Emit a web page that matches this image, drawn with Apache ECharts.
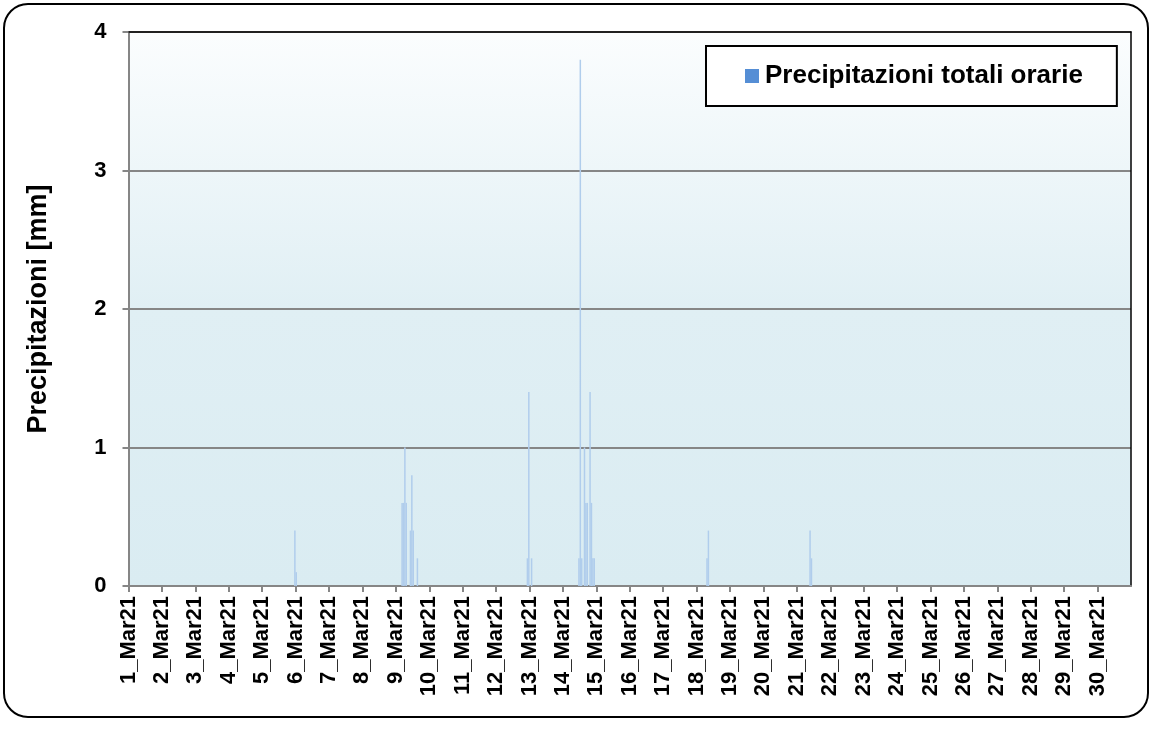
<!DOCTYPE html>
<html>
<head>
<meta charset="utf-8">
<script src="https://cdn.jsdelivr.net/npm/echarts@6/dist/echarts.min.js"></script>
<style>html,body{margin:0;padding:0;background:#fff}#c{width:1153px;height:729px}</style>
</head>
<body>
<div id="c"></div>
<script>
// Tick labels (one per day, at day start)
const dayLabels = ['1_Mar21','2_Mar21','3_Mar21','4_Mar21','5_Mar21','6_Mar21','7_Mar21','8_Mar21','9_Mar21','10_Mar21',
  '11_Mar21','12_Mar21','13_Mar21','14_Mar21','15_Mar21','16_Mar21','17_Mar21','18_Mar21','19_Mar21','20_Mar21',
  '21_Mar21','22_Mar21','23_Mar21','24_Mar21','25_Mar21','26_Mar21','27_Mar21','28_Mar21','29_Mar21','30_Mar21'];
// Hour index (from 1 Mar 00:00) of each non-zero hourly total
const rainHour = [119, 120, 196, 197, 198, 199, 202, 203, 204, 207, 286, 287, 289, 323, 324, 325, 327, 328, 329, 331, 332, 333, 334, 415, 416, 489, 490];
// Hourly precipitation [mm]
const rainMm   = [0.4, 0.1, 0.6, 0.6, 1.0, 0.6, 0.4, 0.8, 0.4, 0.2, 0.2, 1.4, 0.2, 0.2, 3.8, 0.2, 1.0, 0.6, 0.6, 1.4, 0.6, 0.2, 0.2, 0.2, 0.4, 0.4, 0.2];
const yTicks = [0, 1, 2, 3, 4];
const seriesName = 'Precipitazioni totali orarie';
const hoursTotal = dayLabels.length * 24;

const barData = rainHour.map((h, i) => [h + 0.5, rainMm[i]]);

const chart = echarts.init(document.getElementById('c'), null, {renderer: 'canvas'});
const FONT = 'Liberation Sans, Arial, sans-serif';
const frameAxis = {
  axisLine: {show: true, onZero: false, lineStyle: {color: '#000000', width: 1.5}},
  axisTick: {show: false}, axisLabel: {show: false}, splitLine: {show: false}
};
chart.setOption({
  animation: false,
  backgroundColor: '#ffffff',
  graphic: [{
    type: 'rect', z: -10, silent: true,
    shape: {x: 4, y: 4, width: 1144, height: 713, r: 24},
    style: {fill: '#ffffff', stroke: '#000000', lineWidth: 2}
  }],
  grid: {
    left: 128.5, top: 32, right: 22, bottom: 143,
    show: true, borderWidth: 0,
    backgroundColor: {
      type: 'linear', x: 0, y: 0, x2: 0, y2: 1,
      colorStops: [{offset: 0, color: '#fbfdfe'}, {offset: 0.5, color: '#e0eff4'}, {offset: 1, color: '#daecf2'}]
    }
  },
  legend: {
    data: [{name: seriesName, icon: 'rect', itemStyle: {color: '#558ed5'}}],
    left: 706, top: 46,
    itemWidth: 14, itemHeight: 14, itemGap: 0,
    padding: [17, 34, 17, 39],
    backgroundColor: '#ffffff', borderColor: '#000000', borderWidth: 2,
    textStyle: {fontFamily: FONT, fontWeight: 'bold', fontSize: 26, color: '#000', padding: [0, 0, 0, 1]}
  },
  xAxis: [{
    type: 'value', min: 0, max: hoursTotal, interval: 24,
    axisLine: {show: true, lineStyle: {color: '#868686', width: 2}},
    axisTick: {show: true, length: 6, lineStyle: {color: '#868686', width: 2}},
    splitLine: {show: false},
    axisLabel: {
      rotate: 90, margin: 10, showMaxLabel: false,
      fontFamily: FONT, fontWeight: 'bold', fontSize: 22, color: '#000',
      formatter: v => dayLabels[Math.round(v / 24)] || ''
    }
  }, Object.assign({type: 'value', position: 'top', min: 0, max: hoursTotal}, frameAxis)],
  yAxis: [{
    type: 'value', min: yTicks[0], max: yTicks[yTicks.length - 1], interval: 1,
    name: 'Precipitazioni [mm]', nameLocation: 'middle', nameRotate: 90, nameGap: 76,
    nameTextStyle: {fontFamily: FONT, fontWeight: 'bold', fontSize: 27, color: '#000'},
    axisLine: {show: true, lineStyle: {color: '#868686', width: 2}},
    axisTick: {show: true, length: 6, lineStyle: {color: '#868686', width: 2}},
    splitLine: {show: true, lineStyle: {color: '#868686', width: 2}},
    axisLabel: {margin: 22, fontFamily: FONT, fontWeight: 'bold', fontSize: 22, color: '#000'}
  }, Object.assign({type: 'value', position: 'right', min: yTicks[0], max: yTicks[yTicks.length - 1]}, frameAxis)],
  series: [{
    name: seriesName, type: 'bar',
    data: barData, barWidth: 1.5,
    itemStyle: {color: '#b0cdec'},
    legendHoverLink: false
  }]
});
</script>
</body>
</html>
